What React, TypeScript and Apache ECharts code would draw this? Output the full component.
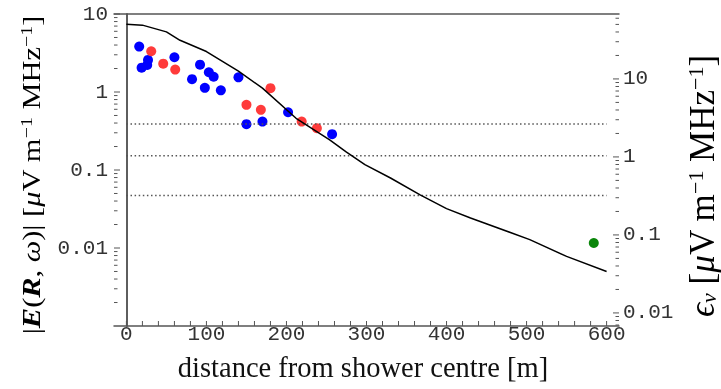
import React, { useEffect, useRef } from 'react';
import * as echarts from 'echarts';

// Model curve |E(R,ω)| vs distance
const curveX = [0, 20, 50, 67, 100, 140, 170, 212, 254, 275, 298, 330, 367, 400, 430, 442, 504, 550, 600];
const curveY = [7.4, 7.2, 5.9, 4.6, 3.3, 1.85, 1.12, 0.46, 0.244, 0.17, 0.117, 0.079, 0.048, 0.032, 0.0242, 0.0219, 0.0128, 0.0078, 0.005];

// Blue data points
const blueX = [16, 27, 19, 26, 60, 82, 92, 103, 109, 98, 118, 140, 150, 170, 202, 257];
const blueY = [3.82, 2.58, 2.05, 2.22, 2.79, 1.46, 2.24, 1.79, 1.57, 1.13, 1.05, 1.54, 0.387, 0.418, 0.55, 0.288];

// Red data points
const redX = [31, 46, 61, 150, 168, 180, 219, 238];
const redY = [3.33, 2.31, 1.94, 0.684, 0.59, 1.12, 0.418, 0.344];

// Green data point
const greenX = [584];
const greenY = [0.0116];

// Dotted horizontal levels (left-axis units)
const dottedLevels = [0.39, 0.152, 0.047];
const dottedFrom = 0;
const dottedTo = 600;

// Axes
const xMin = -15.5;
const xMax = 615.5;
const xTickValues = [0, 20, 40, 60, 80, 100, 120, 140, 160, 180, 200, 220, 240, 260, 280, 300, 320, 340, 360, 380, 400, 420, 440, 460, 480, 500, 520, 540, 560, 580, 600];
const xLabelValues = [0, 100, 200, 300, 400, 500, 600];

const leftMin = 0.001;
const leftMax = 10;
const leftMajor = [0.01, 0.1, 1, 10];
const rightRatio = 6.8;
const rightMin = leftMin * rightRatio;
const rightMax = leftMax * rightRatio;
const rightMajor = [0.01, 0.1, 1, 10];

function minorTicks(lo: number, hi: number): number[] {
  const out: number[] = [];
  for (let e = -4; e <= 2; e++) {
    for (let m = 2; m <= 9; m++) {
      const v = Number((m * Math.pow(10, e)).toPrecision(6));
      if (v > lo && v < hi) out.push(v);
    }
  }
  return out;
}

const fmt = (v: number) => String(Number(Number(v).toPrecision(4)));

export default function App() {
  const ref = useRef<HTMLDivElement>(null);
  useEffect(() => {
    if (!ref.current) return;
    const chart = echarts.init(ref.current, null, { renderer: 'svg' });
    const axisColor = '#555';
    const tickFont = { fontFamily: 'Liberation Mono', fontSize: 21, color: '#333' };
    const pair = (xs: number[], ys: number[]) => xs.map((x, i) => [x, ys[i]]);
    const mkRich = (fs: number, ss: number) => ({
      n: { fontFamily: 'Liberation Serif', fontSize: fs, color: '#111' },
      b: { fontFamily: 'Liberation Serif', fontSize: fs, color: '#111', fontStyle: 'italic', fontWeight: 'bold' },
      i: { fontFamily: 'Liberation Serif', fontSize: fs, color: '#111', fontStyle: 'italic' },
      s: { fontFamily: 'Liberation Serif', fontSize: ss, color: '#111', verticalAlign: 'top' },
      sub: { fontFamily: 'Liberation Serif', fontSize: ss, color: '#111', fontStyle: 'italic', verticalAlign: 'bottom' },
    });

    // tick data: [x, y(left units), kind]
    const tickData: number[][] = [];
    xTickValues.forEach((v) => tickData.push([v, leftMin, 0]));
    leftMajor.forEach((v) => tickData.push([xMin, v, 1]));
    minorTicks(leftMin, leftMax).forEach((v) => tickData.push([xMin, v, 2]));
    rightMajor.forEach((v) => tickData.push([xMax, v / rightRatio, 3]));
    minorTicks(rightMin, rightMax).forEach((v) => tickData.push([xMax, v / rightRatio, 4]));

    chart.setOption({
      animation: false,
      grid: { left: 114, right: 102, top: 14, bottom: 63 },
      xAxis: [
        {
          type: 'value', min: xMin, max: xMax, position: 'bottom',
          axisLine: { show: true, onZero: false, lineStyle: { color: axisColor, width: 1.5 } },
          axisTick: { show: false },
          axisLabel: { customValues: xLabelValues, margin: -2, ...tickFont },
          splitLine: { show: false },
        },
        {
          type: 'value', min: xMin, max: xMax, position: 'top',
          axisLine: { show: true, onZero: false, lineStyle: { color: axisColor, width: 1.5 } },
          axisTick: { show: false }, axisLabel: { show: false }, splitLine: { show: false },
        },
      ],
      yAxis: [
        {
          type: 'log', logBase: 10, min: leftMin, max: leftMax, position: 'left',
          axisLine: { show: true, lineStyle: { color: axisColor, width: 1.5 } },
          axisTick: { show: false },
          axisLabel: { customValues: leftMajor, formatter: (v: number) => fmt(v), margin: 6, ...tickFont },
          splitLine: { show: false },
        },
        {
          type: 'log', logBase: 10, min: rightMin, max: rightMax, position: 'right',
          axisLine: { show: true, lineStyle: { color: axisColor, width: 1.5 } },
          axisTick: { show: false },
          axisLabel: { customValues: rightMajor, formatter: (v: number) => fmt(v), margin: 4, ...tickFont },
          splitLine: { show: false },
        },
      ],
      series: [
        {
          type: 'custom', xAxisIndex: 0, yAxisIndex: 0, silent: true, clip: false, z: 3,
          data: tickData,
          renderItem: (_params: any, api: any) => {
            const p = api.coord([api.value(0), api.value(1)]);
            const kind = api.value(2);
            let x2 = p[0];
            let y2 = p[1];
            if (kind === 0) y2 = p[1] - 5;
            else if (kind === 1) x2 = p[0] + 6;
            else if (kind === 2) x2 = p[0] + 3.5;
            else if (kind === 3) x2 = p[0] - 6;
            else x2 = p[0] - 3.5;
            return {
              type: 'line',
              shape: { x1: p[0], y1: p[1], x2, y2 },
              style: { stroke: axisColor, lineWidth: 1 },
            };
          },
        },
        ...dottedLevels.map((lv) => ({
          type: 'line', xAxisIndex: 0, yAxisIndex: 0, symbol: 'none', silent: true,
          data: [[dottedFrom, lv], [dottedTo, lv]],
          lineStyle: { color: '#555', width: 1.5, type: [1.5, 2.6] },
        })),
        {
          type: 'scatter', xAxisIndex: 0, yAxisIndex: 0, symbolSize: 10,
          itemStyle: { color: '#0000ff', opacity: 1 }, data: pair(blueX, blueY),
        },
        {
          type: 'scatter', xAxisIndex: 0, yAxisIndex: 0, symbolSize: 10,
          itemStyle: { color: '#ff3b3b', opacity: 1 }, data: pair(redX, redY),
        },
        {
          type: 'scatter', xAxisIndex: 0, yAxisIndex: 0, symbolSize: 10,
          itemStyle: { color: '#0a860a', opacity: 1 }, data: pair(greenX, greenY),
        },
        {
          type: 'line', xAxisIndex: 0, yAxisIndex: 0, symbol: 'none', z: 5,
          data: pair(curveX, curveY),
          lineStyle: { color: '#000', width: 1.5 },
        },
      ],
      graphic: [
        {
          type: 'text', x: 31, y: 175, rotation: Math.PI / 2, scaleX: 1.17,
          style: {
            text: '{n||}{b|E}{n|(}{b|R}{n|, }{i|ω}{n|)| [}{i|μ}{n|V m}{s|−1}{n| MHz}{s|−1}{n|]}',
            rich: mkRich(26, 17), align: 'center', verticalAlign: 'middle',
          },
        },
        {
          type: 'text', x: 702, y: 186, rotation: Math.PI / 2,
          style: {
            text: '{i|ϵ}{sub|ν}{n| [}{i|μ}{n|V m}{s|−1}{n| MHz}{s|−1}{n|]}',
            rich: mkRich(35, 22), align: 'center', verticalAlign: 'middle',
          },
        },
        {
          type: 'text', x: 363, y: 367,
          style: {
            text: 'distance from shower centre [m]',
            fontFamily: 'Liberation Serif', fontSize: 28.5, fill: '#111',
            align: 'center', verticalAlign: 'middle',
          },
        },
      ],
    });
    return () => chart.dispose();
  }, []);
  return <div ref={ref} style={{ position: 'fixed', left: 0, top: 0, width: 721, height: 389 }} />;
}
